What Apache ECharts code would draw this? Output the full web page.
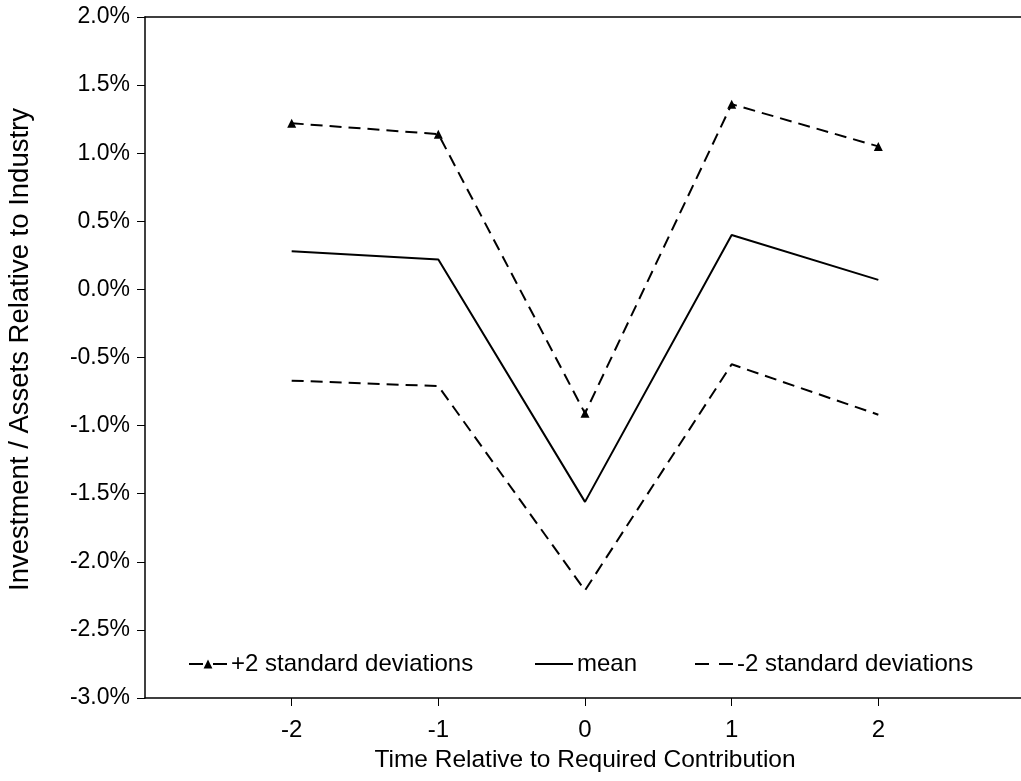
<!DOCTYPE html>
<html>
<head>
<meta charset="utf-8">
<script src="https://cdn.jsdelivr.net/npm/echarts@6/dist/echarts.min.js"></script>
<style>
  html, body { margin: 0; padding: 0; background: #fff; }
  #chart { width: 1021px; height: 781px; }
</style>
</head>
<body>
<div id="chart"></div>
<script>
// time relative to required contribution
const times = [-2, -1, 0, 1, 2]
// investment / assets relative to industry, in percent
const plus2sd = [1.22, 1.14, -0.91, 1.36, 1.05]
const mean = [0.28, 0.22, -1.56, 0.40, 0.07]
const minus2sd = [-0.67, -0.71, -2.21, -0.55, -0.92]

const font = 'Liberation Sans, Arial, sans-serif'
const pairs = arr => times.map((t, i) => [t, arr[i]])

const chart = echarts.init(document.getElementById('chart'))

const legendBase = {
  top: 647,
  itemWidth: 38,
  itemHeight: 11,
  lineStyle: { type: [14, 10] },
  textStyle: { fontFamily: font, fontSize: 24, color: '#000', padding: [0, 0, 0, -1] }
}

chart.setOption({
  animation: false,
  grid: {
    left: 145, top: 17, right: -4, bottom: 83,
    outerBoundsMode: 'none'
  },
  legend: [
    Object.assign({ left: 183, data: ['+2 standard deviations'] }, legendBase),
    Object.assign({ left: 529, data: ['mean'], itemStyle: { opacity: 0 } }, legendBase, { lineStyle: { type: 'solid' } }),
    Object.assign({ left: 689, data: ['-2 standard deviations'], itemStyle: { opacity: 0 } }, legendBase)
  ],
  xAxis: [
    {
      type: 'value',
      min: -3, max: 3, interval: 1,
      name: 'Time Relative to Required Contribution',
      nameLocation: 'middle',
      nameGap: 50,
      nameTextStyle: { fontFamily: font, fontSize: 24.5, color: '#000' },
      splitLine: { show: false },
      axisLine: { onZero: false, lineStyle: { color: '#000', width: 1.5 } },
      axisTick: { inside: false, length: 8, lineStyle: { color: '#000' } },
      axisLabel: {
        margin: 20,
        showMinLabel: false, showMaxLabel: false,
        fontFamily: font, fontSize: 24, color: '#000'
      }
    },
    {
      type: 'value',
      position: 'top',
      min: -3, max: 3, interval: 1,
      splitLine: { show: false },
      axisLine: { onZero: false, lineStyle: { color: '#000', width: 1.5 } },
      axisTick: { show: false },
      axisLabel: { show: false }
    }
  ],
  yAxis: {
    type: 'value',
    min: -3, max: 2, interval: 0.5,
    name: 'Investment / Assets Relative to Industry',
    nameLocation: 'middle',
    nameGap: 111,
    nameTextStyle: { fontFamily: font, fontSize: 27.5, color: '#000', padding: [0, 0, 0, 16] },
    splitLine: { show: false },
    axisLine: { show: true, onZero: false, lineStyle: { color: '#000', width: 1.5 } },
    axisTick: { show: true, length: 8, lineStyle: { color: '#000' } },
    axisLabel: {
      margin: 15,
      fontFamily: font, fontSize: 23, color: '#000',
      formatter: v => v.toFixed(1) + '%'
    }
  },
  series: [
    {
      name: '+2 standard deviations',
      type: 'line',
      data: pairs(plus2sd),
      symbol: 'triangle',
      symbolSize: 9,
      itemStyle: { color: '#000' },
      lineStyle: { color: '#000', width: 2, type: [12, 7] }
    },
    {
      name: 'mean',
      type: 'line',
      data: pairs(mean),
      symbol: 'none',
      itemStyle: { color: '#000' },
      lineStyle: { color: '#000', width: 2 }
    },
    {
      name: '-2 standard deviations',
      type: 'line',
      data: pairs(minus2sd),
      symbol: 'none',
      itemStyle: { color: '#000' },
      lineStyle: { color: '#000', width: 2, type: [12, 7] }
    }
  ]
})
</script>
</body>
</html>
